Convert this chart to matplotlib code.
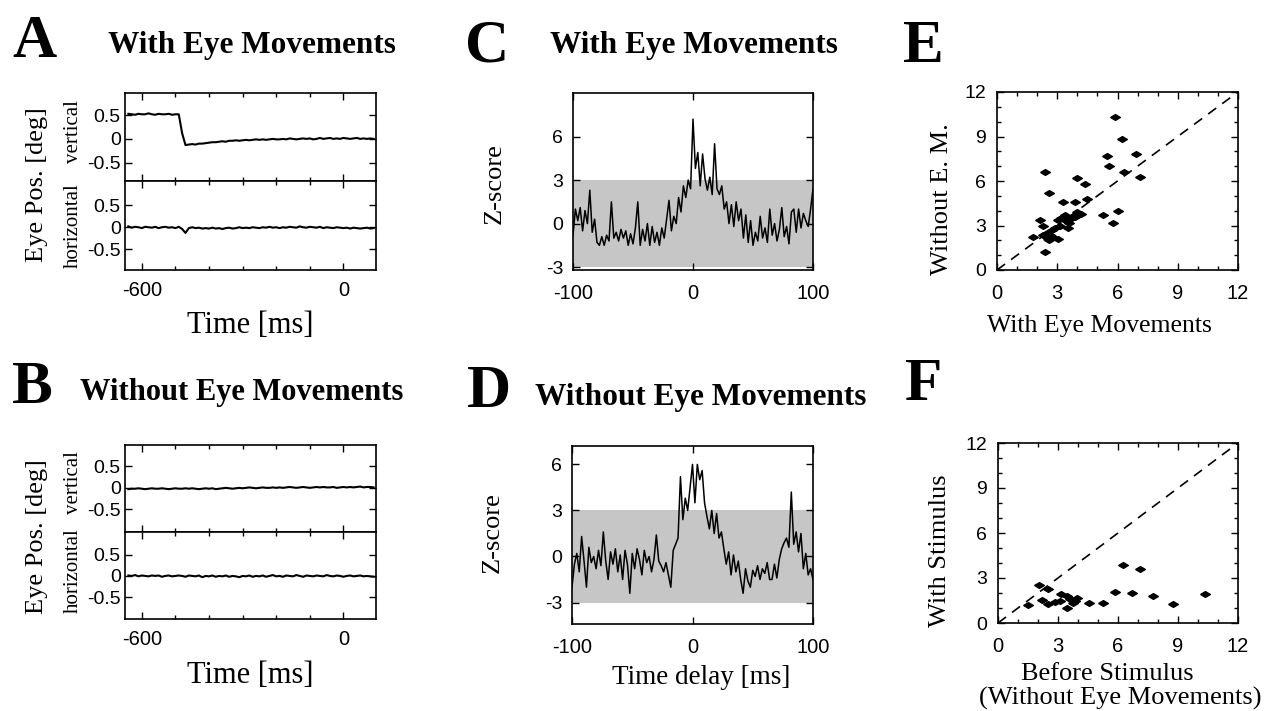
import numpy as np
import matplotlib
matplotlib.use("Agg")
import matplotlib.pyplot as plt
from matplotlib.path import Path
from matplotlib.ticker import MultipleLocator

# ==============================
# DATA
# ==============================

# eye position traces, 10 ms samples from -650 to 100 ms
T_EYE = np.arange(-650, 101, 10)

A_VERT = ([0.52, 0.53, 0.52, 0.51, 0.53, 0.52, 0.52, 0.54, 0.52, 0.51, 0.53, 0.52, 0.52, 0.53, 0.51, 0.52, 0.52]
          + [0.12, -0.13, -0.12, -0.11, -0.12, -0.10, -0.10, -0.09, -0.08, -0.07]
          + [-0.07, -0.06, -0.05, -0.06, -0.04, -0.04, -0.03, -0.04, -0.03, -0.02]
          + [-0.03, -0.02, -0.01, -0.02, -0.01, -0.02, -0.01, 0.00, -0.01, -0.01]
          + [0.00, -0.01, 0.01, 0.00, -0.01, 0.00, 0.01, 0.00, 0.01, -0.01]
          + [0.00, 0.02, 0.00, 0.01, 0.02, 0.00, 0.01, 0.00, 0.02, 0.01]
          + [0.00, 0.01, 0.02, 0.00, 0.01, 0.00, 0.01, 0.00, 0.01])

A_HORZ = ([0.01, 0.02, -0.01, 0.01, 0.00, -0.02, 0.01, 0.00, -0.01, 0.01, -0.02, 0.00, 0.01, -0.01, 0.00, -0.02, 0.01]
          + [-0.04, -0.13, -0.02, 0.00, -0.02, -0.01, -0.03, -0.02, -0.03, -0.01]
          + [-0.03, -0.02, -0.04, -0.02, -0.01, -0.03, -0.02, 0.00, -0.02, -0.01]
          + [-0.02, 0.00, -0.01, -0.02, 0.00, -0.01, 0.01, -0.01, 0.00, -0.02]
          + [0.00, -0.01, 0.01, 0.00, -0.01, 0.02, 0.00, -0.01, 0.01, 0.00]
          + [-0.01, 0.01, -0.02, 0.00, -0.01, -0.02, 0.00, -0.01, -0.02, -0.01]
          + [-0.03, -0.01, -0.02, -0.03, -0.02, -0.01, -0.03, -0.02, -0.02])

B_VERT = ([-0.02, -0.03, -0.02, -0.02, -0.01, -0.02, -0.03, -0.02, -0.01, -0.02, -0.02, -0.01, -0.02, -0.03, -0.02, -0.01, -0.02]
          + [-0.02, -0.01, -0.02, -0.01, -0.02, -0.03, -0.02, -0.01, -0.02, -0.01]
          + [-0.03, -0.02, -0.01, 0.00, -0.01, -0.02, -0.01, 0.00, -0.01, 0.00]
          + [0.01, 0.00, -0.01, 0.00, 0.01, 0.00, 0.00, 0.01, 0.00, 0.01]
          + [0.00, 0.01, 0.02, 0.01, 0.00, 0.01, 0.02, 0.01, 0.00, 0.01]
          + [0.02, 0.01, 0.02, 0.01, 0.01, 0.02, 0.00, 0.01, 0.02, 0.01]
          + [0.02, 0.01, 0.02, 0.03, 0.01, 0.02, 0.02, 0.01, 0.01])

B_HORZ = ([0.02, 0.01, 0.00, 0.02, -0.01, 0.01, 0.00, -0.01, 0.01, 0.00, 0.01, -0.02, 0.00, 0.01, -0.01, 0.00, 0.01]
          + [0.00, -0.02, 0.01, 0.00, -0.01, 0.01, -0.03, 0.00, -0.01, 0.01]
          + [-0.02, 0.00, -0.01, 0.01, -0.02, 0.00, -0.01, -0.03, 0.00, -0.01]
          + [0.01, -0.02, 0.00, -0.01, 0.01, -0.02, 0.00, 0.02, -0.01, 0.00]
          + [-0.02, 0.01, 0.00, -0.01, 0.02, 0.00, -0.02, 0.01, 0.00, -0.01]
          + [0.01, 0.00, -0.01, 0.02, 0.00, -0.01, 0.01, 0.00, -0.02, 0.00]
          + [0.01, -0.01, 0.00, 0.01, -0.01, 0.00, -0.01, -0.02, -0.02])

# cross-correlograms, 2 ms lags from -100 to 100
LAG = np.arange(-100, 101, 2)

C_Z = [-0.8, 1.0, 0.2, 1.1, -0.5, 0.9, 0.0, 2.3, -0.6, 0.3,
       -1.3, -1.5, -0.9, -1.5, -0.8, -1.2, 1.5, -1.0, -0.6, -1.2,
       -0.4, -1.0, -0.5, -1.5, -0.7, -1.4, -0.3, 1.5, -1.5, -0.4,
       -1.2, 0.0, -1.5, -0.2, -1.3, -0.6, -1.5, -0.3, -1.0, 0.3,
       1.6, -0.5, 0.5, 0.0, 1.8, 0.8, 2.6, 1.8, 3.0, 2.4,
       7.2,
       3.8, 4.9, 2.6, 4.8, 3.1, 2.3, 3.2, 2.0, 5.5, 2.4,
       2.0, 2.6, 1.0, 1.5, 0.0, 1.3, -0.2, 1.5, 0.2, 1.0,
       -1.0, 0.6, -1.3, 0.2, -1.5, -0.6, -1.2, 0.5, -1.0, -0.3,
       -1.3, 1.0, -0.8, 0.0, -1.2, -0.4, 1.1, -0.9, -0.2, -1.4,
       0.8, 1.0, -0.6, 1.0, -0.3, 0.7, 0.2, -0.2, 1.0, 2.4]

D_Z = [-2.0, -0.5, 0.2, -1.0, 1.3, -0.3, -2.0, 0.6, -0.4, 0.0,
       -0.8, 0.4, -0.6, 1.6, -0.3, -1.5, 0.3, -0.5, 0.5, -1.0,
       0.1, -1.5, 0.4, -0.5, -2.4, 0.2, -0.8, 0.5, -0.2, -1.2,
       0.4, -0.4, 0.0, -1.0, -0.2, 1.4, -0.3, -0.6, -1.0, -0.4,
       -1.2, -2.0, 0.4, 0.8, 1.2, 5.2, 2.4, 3.8, 3.0, 4.5,
       6.0,
       3.5, 6.0, 5.0, 5.6, 3.5, 2.6, 1.8, 3.0, 1.5, 2.8,
       1.2, 1.6, 0.5, -0.5, 0.3, -1.2, 0.1, -1.0, -0.3, -1.5,
       -2.4, -0.8, -1.6, -2.0, -0.9, -1.3, -0.6, -1.5, -0.8, -1.1,
       -0.4, -1.5, -1.5, -0.5, -1.4, -0.2, 0.5, 0.9, 1.2, 0.6,
       4.2, 0.8, 1.6, 0.3, 1.5, -0.8, 0.2, -1.2, -0.8, -1.5]

# peak z-scores per pair
E_X = [5.9, 6.2, 5.5, 6.9, 5.6, 6.3, 7.1, 2.4, 4.0, 4.4, 2.6, 3.3, 3.9, 4.5, 4.2, 4.0,
       5.3, 6.0, 5.8, 3.2, 3.4, 3.6, 3.55, 3.05, 3.8, 2.15, 2.27, 1.8, 2.4, 3.05,
       2.47, 2.72, 2.55, 2.9, 2.64, 2.3, 2.8, 3.13, 3.4, 3.72, 3.5, 2.5, 2.6, 3.9]
E_Y = [10.3, 8.8, 7.7, 7.8, 7.0, 6.6, 6.3, 6.6, 6.2, 5.8, 5.2, 4.6, 4.6, 4.8, 3.8, 3.9,
       3.7, 4.0, 3.2, 3.5, 3.7, 3.2, 2.8, 3.4, 3.6, 3.4, 3.0, 2.2, 1.2, 2.1,
       2.5, 2.7, 2.1, 2.85, 2.35, 2.35, 2.25, 3.0, 3.4, 3.5, 3.3, 2.2, 2.0, 3.6]

F_X = [6.25, 7.1, 5.87, 6.68, 7.77, 8.77, 10.35, 5.27, 4.57, 1.52, 2.07, 2.5,
       2.18, 2.5, 2.85, 3.13, 3.43, 3.6, 3.85, 3.97, 3.47, 3.73, 3.1]
F_Y = [3.9, 3.58, 2.09, 1.98, 1.8, 1.27, 1.93, 1.36, 1.36, 1.2, 2.55, 2.27,
       1.53, 1.25, 1.42, 1.91, 1.83, 1.58, 1.47, 1.64, 0.98, 1.36, 1.45]


# ==============================
# FIGURE SETUP
# ==============================

W, H = 1269, 711
SERIF = "Liberation Serif"

plt.rcParams["font.family"] = "Liberation Sans"
plt.rcParams["axes.unicode_minus"] = False
plt.rcParams["axes.linewidth"] = 1.2

fig = plt.figure(figsize=(W / 100, H / 100), dpi=100)


def box(x0, y0, x1, y1):
    # pixel rectangle (from top-left) -> figure fraction
    return [x0 / W, 1 - y1 / H, (x1 - x0) / W, (y1 - y0) / H]


def put(x, y, s, **kw):
    fig.text(x / W, 1 - y / H, s, **kw)


def ticks_in(ax, xpad, ypad, xsize=14.5, ysize=14):
    ax.tick_params(which="both", direction="in", top=True, right=True, width=1)
    ax.tick_params(which="major", length=5)
    ax.tick_params(which="minor", length=3)
    ax.tick_params(axis="x", pad=xpad, labelsize=xsize)
    ax.tick_params(axis="y", pad=ypad, labelsize=ysize)


diamond = Path([(-1, 0), (0, 0.6), (1, 0), (0, -0.6), (-1, 0)])


# ==============================
# EYE POSITION (A, B)
# ==============================

def eye_panel(y0, ymid, y1, vert, horz, vlim, hlim):
    axv = fig.add_axes(box(125, y0, 376, ymid))
    axh = fig.add_axes(box(125, ymid, 376, y1))
    for ax, trace, lim in ((axv, vert, vlim), (axh, horz, hlim)):
        ax.plot(T_EYE[1:-1], trace[1:-1], color="black", lw=1.5)
        ax.set_xlim(-650, 97)
        ax.set_ylim(*lim)
        ax.set_xticks([-600, 0])
        ax.xaxis.set_minor_locator(MultipleLocator(100))
        ax.set_yticks([-0.5, 0, 0.5])
        ax.set_yticklabels(["-0.5", "0", "0.5"])
        ticks_in(ax, 8, 3, 14.5, 14)
    axv.set_xticklabels([])
    axh.set_xticklabels(["-600", "0"])
    return axv, axh


eye_panel(93, 181, 270, A_VERT, A_HORZ, (-0.89, 0.97), (-0.98, 1.06))
eye_panel(445, 532, 619, B_VERT, B_HORZ, (-1.02, 0.99), (-1.02, 1.04))

for yc, yv, yh in ((185, 132, 226), (537, 483, 571)):
    put(37, yc, "Eye Pos. [deg]", family=SERIF, fontsize=19, rotation=90, ha="center", va="center")
    put(73, yv, "vertical", family=SERIF, fontsize=15, rotation=90, ha="center", va="center")
    put(73, yh, "horizontal", family=SERIF, fontsize=15, rotation=90, ha="center", va="center")

put(250, 333, "Time [ms]", family=SERIF, fontsize=22, ha="center", va="baseline")
put(250, 683, "Time [ms]", family=SERIF, fontsize=22, ha="center", va="baseline")


# ==============================
# CROSS-CORRELOGRAMS (C, D)
# ==============================

def z_panel(rect, z, ylim):
    ax = fig.add_axes(rect)
    ax.axhspan(-3, 3, color="#c6c6c6", lw=0, zorder=0)
    ax.plot(LAG, z, color="black", lw=1.1)
    ax.set_xlim(-100, 100)
    ax.set_ylim(*ylim)
    ax.set_xticks([-100, 0, 100])
    ax.set_xticklabels(["-100", "0", "100"])
    ax.set_yticks([-3, 0, 3, 6])
    ax.set_yticklabels(["-3", "0", "3", "6"])
    ticks_in(ax, 10, 7)
    return ax


z_panel(box(573, 93, 813, 270), C_Z, (-3.2, 9.0))
z_panel(box(572, 446, 813, 624), D_Z, (-4.4, 7.2))

put(495, 184, "Z-score", family=SERIF, fontsize=19, rotation=90, ha="center", va="center")
put(493, 533, "Z-score", family=SERIF, fontsize=19, rotation=90, ha="center", va="center")
put(701, 684, "Time delay [ms]", family=SERIF, fontsize=19.5, ha="center", va="baseline")


# ==============================
# SCATTER (E, F)
# ==============================

def scatter_panel(rect, xs, ys):
    ax = fig.add_axes(rect)
    ax.axline((0, 0), (1, 1), color="black", lw=1.2, ls=(0, (6, 4.5)))
    ax.plot(xs, ys, ls="none", marker=diamond, ms=7, color="black")
    ax.set_xlim(0, 12)
    ax.set_ylim(0, 12)
    ax.set_xticks([0, 3, 6, 9, 12])
    ax.set_yticks([0, 3, 6, 9, 12])
    ax.xaxis.set_minor_locator(MultipleLocator(1))
    ax.yaxis.set_minor_locator(MultipleLocator(1))
    ticks_in(ax, 10, 8)
    return ax


scatter_panel(box(997, 92, 1238, 270), E_X, E_Y)
scatter_panel(box(998, 443, 1238, 623), F_X, F_Y)

put(942, 199, "Without E. M.", family=SERIF, fontsize=19, rotation=90, ha="center", va="center")
put(1099, 332, "With Eye Movements", family=SERIF, fontsize=18.5, ha="center", va="baseline")
put(940, 551, "With Stimulus", family=SERIF, fontsize=19, rotation=90, ha="center", va="center")
put(1107, 680, "Before Stimulus", family=SERIF, fontsize=19, ha="center", va="baseline")
put(1120, 705, "(Without Eye Movements)", family=SERIF, fontsize=19, ha="center", va="baseline")


# ==============================
# PANEL LETTERS AND TITLES
# ==============================

for x, y, s in ((12, 57, "A"), (12, 403, "B"), (465, 61, "C"),
                (467, 407, "D"), (903, 62, "E"), (905, 400, "F")):
    put(x, y, s, family=SERIF, fontsize=44, fontweight="bold", ha="left", va="baseline")

put(108, 53, "With Eye Movements", family=SERIF, fontsize=22.5, fontweight="bold", va="baseline")
put(80, 400, "Without Eye Movements", family=SERIF, fontsize=22, fontweight="bold", va="baseline")
put(550, 53, "With Eye Movements", family=SERIF, fontsize=22.5, fontweight="bold", va="baseline")
put(535, 405, "Without Eye Movements", family=SERIF, fontsize=22.5, fontweight="bold", va="baseline")

fig.savefig("out.png", dpi=100, facecolor="white")
